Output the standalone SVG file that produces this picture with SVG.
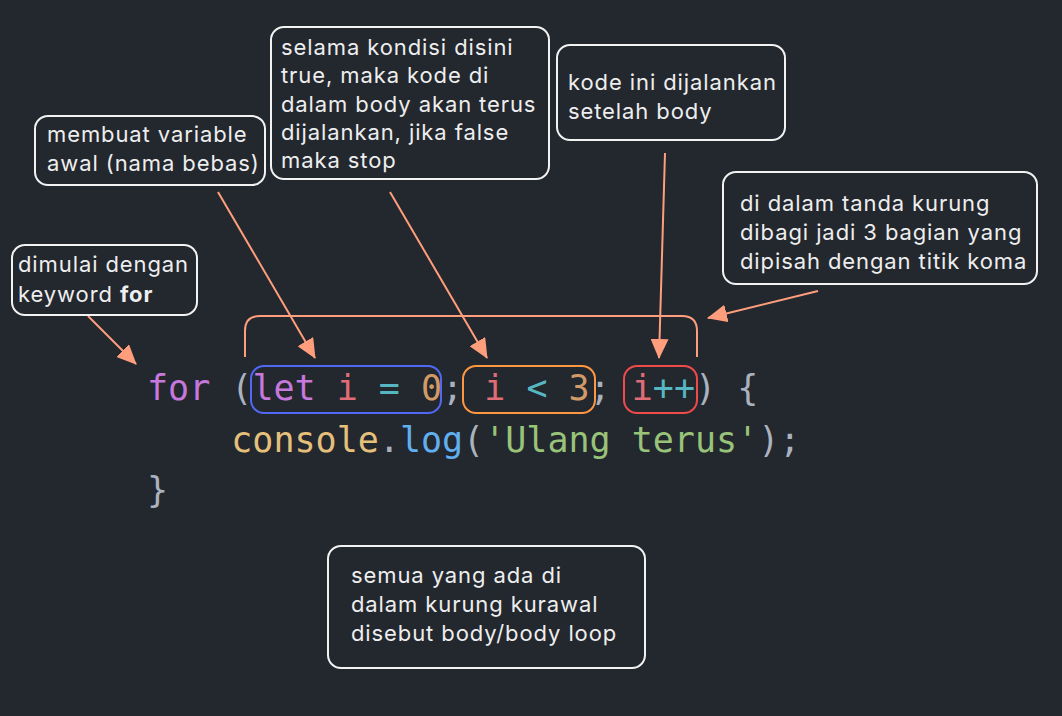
<svg xmlns="http://www.w3.org/2000/svg" width="1062" height="716" viewBox="0 0 1062 716">
<defs>
<style>
.box{fill:#23272e;stroke:#f2f2f2;stroke-width:2}
.lbl{font-family:Inter,"Noto Sans","Liberation Sans",sans-serif;font-size:22px;letter-spacing:0.9px;fill:#eeeeee}
.code{font-family:"DejaVu Sans Mono","Liberation Mono",monospace;font-size:35px;white-space:pre}
.conn{stroke:#ff9e7d;stroke-width:2;fill:none}
.kw{fill:#c678dd}.var{fill:#e06c75}.op{fill:#56b6c2}.num{fill:#d19a66}.pun{fill:#abb2bf}.obj{fill:#e5c07b}.fn{fill:#61afef}.str{fill:#98c379}
</style>
<marker id="ah" viewBox="0 0 10 9" refX="9.5" refY="4.5" markerWidth="10" markerHeight="9" markerUnits="strokeWidth" orient="auto">
<path d="M0,0 L10,4.5 L0,9 z" fill="#ff9e7d"/>
</marker>
</defs>
<rect width="1062" height="716" fill="#23272e"/>

<g id="code">
<text class="code" x="147" y="400" xml:space="preserve"><tspan class="kw">for</tspan><tspan class="pun"> (</tspan><tspan class="kw">let</tspan> <tspan class="var">i</tspan> <tspan class="op">=</tspan> <tspan class="num">0</tspan><tspan class="pun">;</tspan> <tspan class="var">i</tspan> <tspan class="op">&lt;</tspan> <tspan class="num">3</tspan><tspan class="pun">;</tspan> <tspan class="var">i</tspan><tspan class="op">++</tspan><tspan class="pun">) {</tspan></text>
<text class="code" x="147" y="452" xml:space="preserve">    <tspan class="obj">console</tspan><tspan class="pun">.</tspan><tspan class="fn">log</tspan><tspan class="pun">(</tspan><tspan class="str">'Ulang terus'</tspan><tspan class="pun">);</tspan></text>
<text class="code pun" x="147" y="502">}</text>
</g>

<g id="highlights" fill="none" stroke-width="2">
<rect x="251" y="366" width="190" height="47" rx="13" stroke="#5168f5"/>
<rect x="463" y="366" width="132" height="47" rx="13" stroke="#ff9640"/>
<rect x="624" y="366" width="73" height="47" rx="13" stroke="#f04a4a"/>
</g>

<g id="connectors">
<path class="conn" d="M245,357 V331 Q245,316 260,316 H682 Q697,316 697,331 V357"/>
<line class="conn" x1="88" y1="316" x2="136" y2="364" marker-end="url(#ah)"/>
<line class="conn" x1="218" y1="192" x2="315" y2="358" marker-end="url(#ah)"/>
<line class="conn" x1="390" y1="192" x2="487" y2="358" marker-end="url(#ah)"/>
<line class="conn" x1="665" y1="153" x2="659" y2="358" marker-end="url(#ah)"/>
<line class="conn" x1="818" y1="291" x2="708" y2="318" marker-end="url(#ah)"/>
</g>

<g id="n1">
<rect class="box" x="12" y="245" width="185" height="70" rx="13"/>
<text class="lbl" x="18" y="272">dimulai dengan</text>
<text class="lbl" x="18" y="302">keyword <tspan font-weight="bold">for</tspan></text>
</g>

<g id="n2">
<rect class="box" x="35" y="116" width="230" height="69" rx="13"/>
<text class="lbl" x="47" y="142">membuat variable</text>
<text class="lbl" x="47" y="171">awal (nama bebas)</text>
</g>

<g id="n3">
<rect class="box" x="271" y="27" width="278" height="152" rx="13"/>
<text class="lbl" x="281" y="55">selama kondisi disini</text>
<text class="lbl" x="281" y="83">true, maka kode di</text>
<text class="lbl" x="281" y="112">dalam body akan terus</text>
<text class="lbl" x="281" y="140">dijalankan, jika false</text>
<text class="lbl" x="281" y="168">maka stop</text>
</g>

<g id="n4">
<rect class="box" x="557" y="45" width="228" height="95" rx="13"/>
<text class="lbl" x="568" y="90">kode ini dijalankan</text>
<text class="lbl" x="568" y="119">setelah body</text>
</g>

<g id="n5">
<rect class="box" x="723" y="172" width="314" height="112" rx="13"/>
<text class="lbl" x="740" y="211">di dalam tanda kurung</text>
<text class="lbl" x="740" y="240">dibagi jadi 3 bagian yang</text>
<text class="lbl" x="740" y="269">dipisah dengan titik koma</text>
</g>

<g id="n6">
<rect class="box" x="328" y="546" width="317" height="122" rx="13"/>
<text class="lbl" x="351" y="583">semua yang ada di</text>
<text class="lbl" x="351" y="612">dalam kurung kurawal</text>
<text class="lbl" x="351" y="641">disebut body/body loop</text>
</g>
</svg>
